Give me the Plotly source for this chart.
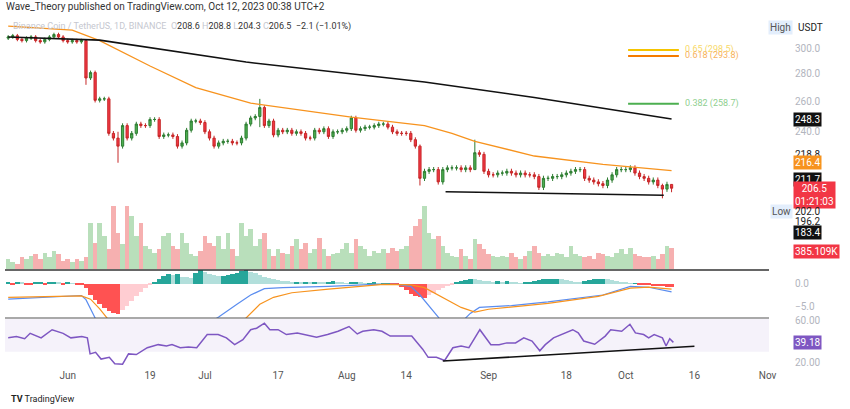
import numpy as np
import pandas as pd
import plotly.graph_objects as go

start = pd.Timestamp("2023-05-19")

closes = [
    309, 310, 307, 306, 308, 309, 306, 305, 307, 309, 311, 309, 306, 305, 306, 305, 306,
    277, 281, 261, 262, 262, 239, 236, 231, 244, 236, 239, 245, 244, 244, 248, 248, 237,
    238, 238, 237, 231, 233, 241, 247, 247, 246, 240, 236, 231, 233, 234, 234, 233, 233,
    236, 245, 249, 250, 256, 244, 247, 238, 241, 240, 241, 239, 240, 239, 236, 236, 241,
    240, 242, 237, 240, 240, 241, 242, 249, 241, 242, 243, 243, 244, 245, 245, 243, 240,
    239, 239, 239, 235, 231,
    212,
    216, 217, 217, 210, 217, 218, 218, 218, 217, 218, 217, 227, 226, 216, 214, 214, 215,
    215, 216, 215, 214, 215, 214, 214, 213, 207, 212, 212, 213, 213, 214, 215, 216, 217,
    217, 212, 211, 210, 209, 208, 211, 214, 217, 217, 217, 218, 215, 213, 212, 210, 211,
    208, 206, 208.6, 206.5,
]
first_open = 308
wick = 1.5
wick_overrides = {17: (306, 272), 24: (240, 221), 55: (262, 243), 90: (232, 208),
                  102: (235, 217), 143: (209, 201), 145: (208.8, 204.3)}

volume_k = [
    180, 120, 90, 210, 180, 240, 270, 180, 300, 210, 330, 270, 150, 180, 120, 180, 150, 210,
    840, 480, 840, 600, 360, 1140, 660, 450, 1140, 960, 600, 840, 420, 360, 300,
    360, 600, 660, 420, 360, 660, 480, 270, 240, 330, 600, 480, 420, 600, 360, 660, 360, 240,
    840, 600, 720, 420, 540, 660,
    360, 240, 360, 300, 270, 420, 540, 360, 480, 300, 360, 570, 360, 240, 270, 300, 360,
    480, 300, 540, 420, 360, 240, 330, 300, 360, 300, 390, 330, 360, 420, 600, 780, 900,
    1140, 660, 540, 600, 420, 300, 240, 210, 360, 240, 180, 540,
    450, 360, 270, 240, 210, 240, 210, 300, 210, 180, 240, 330, 420, 300,
    240, 270, 240, 300, 270, 210, 420, 270, 240, 210, 240, 180, 300, 270, 240, 210, 300, 360,
    270, 390, 270, 240, 210, 210, 240, 180, 270, 420, 385,
]

macd_hist = [
    0.2, -0.2, 0.3, 0.2, -0.2, -0.3, 0.2, 0.3, -0.2, 0.2, 0.3, 0.2, -0.2, 0.2, 0.1, -0.1, -0.3,
    -1.0, -2.5, -3.5, -4.5, -5.3, -6.0, -6.5, -6.7, -5.8, -4.8, -3.8, -2.8, -1.8, -1.0, -0.4,
    0.4, 0.9, 1.6, 2.0, 1.8, 2.0, 1.5, 1.4, 1.3, 2.3, 3.0, 2.6, 2.1, 1.8, 1.6, 1.7, 1.9, 2.0,
    2.3, 2.8, 3.1, 2.6, 2.2, 1.8, 1.5,
    1.2, 1.0, 0.8, 0.6, 0.5, 0.4, 0.4, 0.3, 0.4, 0.3, 0.4, 0.3, 0.2, 0.3, 0.5, 0.3, 0.2, 0.1,
    0.2, 0.3, 0.2, 0.1, 0.1, 0.2, 0.1, 0.1, 0.1, -0.1, -0.3,
    -0.8, -1.5, -2.2, -2.8, -3.0, -3.2, -2.6, -2.0, -1.5, -1.0, -0.6, -0.3, 0.2, 0.5, 0.8, 1.0,
    0.9, 0.7, 0.6, 0.5, 0.4, 0.5, 0.4, 0.5, 0.3, 0.2, 0.1, 0.2, 0.3, 0.5, 0.7, 0.9, 1.0, 1.1,
    1.1, 1.0, 0.8, 0.6, 0.4, 0.3, 0.5, 0.7, 0.9, 1.0, 1.1, 0.9, 0.7, 0.5, 0.3, 0.2, 0.1, 0.1,
    -0.1, -0.2, -0.4, -0.5, -0.6, -0.6, -0.7, -0.7,
]

macd_days = [0, 8, 16, 17, 18, 19, 20, 44, 46, 50, 53, 56, 60, 70, 80, 85, 88, 90, 92, 95,
             99, 101, 103, 110, 118, 125, 130, 136, 140, 145]
macd_vals = [-3.4, -3.0, -2.6, -3.5, -5.5, -7.8, -9.5, -8.5, -7.3, -4.5, -2.5, -1.1, -0.9,
             -0.6, -0.2, -0.2, -0.6, -2.5, -5.0, -8.5, -8.5, -6.5, -5.2, -4.8, -4.0, -3.2,
             -2.5, -0.6, -0.8, -1.8]
signal_days = [0, 16, 18, 20, 22, 30, 45, 50, 52, 55, 58, 62, 70, 82, 88, 91, 95, 99, 102,
               105, 118, 129, 136, 140, 145]
signal_vals = [-3.0, -2.7, -3.4, -5.5, -8.0, -11, -11, -8.5, -7.5, -4.5, -3.0, -2.0, -1.2,
               -0.2, -0.3, -0.9, -3.0, -5.2, -6.2, -5.6, -4.3, -2.8, -1.0, -0.8, -1.2]

rsi_days = [0, 1.8, 3.6, 4.8, 7.2, 9.6, 12, 13.7, 16.1, 17.3, 17.9, 19.1, 20.3, 22.1, 23.3,
            25, 26.3, 28, 30.4, 32.8, 34.6, 35.8, 37.6, 39.4, 41.2, 43.5, 45.9, 47.7, 49.5,
            51.3, 53, 54.3, 56, 57.2, 59, 60.8, 63.2, 65, 67.4, 69.8, 72.1, 74.5, 76.3, 77.5,
            79.9, 81.7, 83.5, 85.8, 88.2, 90.6, 91.8, 93.6, 95.4, 97.2, 99, 100.7, 103.1,
            105.5, 107.3, 109, 110.9, 112.7, 114.5, 116.2, 117.4, 119.2, 121, 123.4, 124.6,
            125.8, 128.2, 130.5, 131.7, 134.1, 135.9, 137.1, 138.9, 140, 141.2, 143, 143.8,
            144.6, 145.4]
rsi_vals = [43.6, 45, 42.8, 48, 43.6, 51.5, 48, 43.6, 45, 43.6, 28, 29.5, 23, 24.7, 18.4, 18,
            28, 27.4, 34, 37, 35.7, 37, 34, 34.6, 34, 46.8, 46.8, 43.6, 37, 41.8, 51.5, 53,
            57.8, 51.5, 51.5, 46.8, 48.4, 46.8, 44.3, 46.8, 50, 54.6, 47.4, 50, 51.5, 50, 45.3,
            45.3, 45.3, 32.6, 24.7, 24.7, 21.6, 34, 35.7, 34, 51.5, 37, 37, 38.7, 38.7, 43.6,
            40.5, 31, 37, 43.6, 46.8, 51.5, 48.4, 40.5, 37.4, 45.3, 51.5, 50, 56.8, 48.4, 46.8,
            43.6, 46.8, 43.6, 35.7, 42.8, 39.18]

ema50_days = [0, 14, 20, 31, 41, 53, 75, 91, 97, 102, 115, 130, 145]
ema50_vals = [318, 314.6, 306, 286, 270, 259, 249.5, 244, 239, 234, 225, 220, 216.4]
ema200_days = [0, 20, 52, 91, 115, 145]
ema200_vals = [309, 306.4, 289, 274, 263, 248.3]

fib_levels = [(0.65, 298.5, "#f5c400"), (0.618, 293.8, "#f57c00"), (0.382, 258.7, "#4caf50")]
fib_label_colors = ["#f8d96a", "#f7b25c", "#8fcf8f"]

tick_dates = ["2023-06-01", "2023-06-19", "2023-07-01", "2023-07-17", "2023-08-01",
              "2023-08-14", "2023-09-01", "2023-09-18", "2023-10-01", "2023-10-16", "2023-11-01"]
tick_text = ["Jun", "19", "Jul", "17", "Aug", "14", "Sep", "18", "Oct", "16", "Nov"]


def day(d):
    return start + pd.to_timedelta(d, unit="D")


n = len(closes)
dates = day(np.arange(n))
opens = [first_open] + closes[:-1]
highs, lows = [], []
for i in range(n):
    if i in wick_overrides:
        h, l = wick_overrides[i]
    else:
        h, l = max(opens[i], closes[i]) + wick, min(opens[i], closes[i]) - wick
    highs.append(h)
    lows.append(l)

vol_colors = ["#b9dfbb" if c >= o else "#f6b0b0" for o, c in zip(opens, closes)]
hist_colors = []
for i, v in enumerate(macd_hist):
    prev = macd_hist[i - 1] if i else v
    if v >= 0:
        hist_colors.append("#26a69a" if v >= prev else "#b2dfdb")
    else:
        hist_colors.append("#ff5252" if v <= prev else "#ffcdd2")

fig = go.Figure()

fig.add_trace(go.Bar(x=dates, y=volume_k[:n], marker=dict(color=vol_colors, line_width=0),
                     xaxis="x", yaxis="y4", showlegend=False))
fig.add_trace(go.Candlestick(
    x=dates, open=opens, high=highs, low=lows, close=closes, xaxis="x", yaxis="y",
    increasing=dict(line=dict(color="#2e7d32", width=1), fillcolor="#4caf50"),
    decreasing=dict(line=dict(color="#c62828", width=1), fillcolor="#f23645"),
    whiskerwidth=0, showlegend=False,
))
fig.add_trace(go.Scatter(x=day(ema50_days), y=ema50_vals, mode="lines", line=dict(color="#f7931e", width=1.3),
                         xaxis="x", yaxis="y", showlegend=False))
fig.add_trace(go.Scatter(x=day(ema200_days), y=ema200_vals, mode="lines", line=dict(color="#111111", width=1.6),
                         xaxis="x", yaxis="y", showlegend=False))
# support line under the lows
fig.add_trace(go.Scatter(x=day([95.6, 143.3]), y=[204.6, 202.7], mode="lines", line=dict(color="#111", width=1.5),
                         xaxis="x", yaxis="y", showlegend=False))
for lvl, price, col in fib_levels:
    fig.add_trace(go.Scatter(x=day([135.5, 146.6]), y=[price, price], mode="lines", line=dict(color=col, width=2),
                             xaxis="x", yaxis="y", showlegend=False))

# MACD
fig.add_trace(go.Bar(x=dates, y=macd_hist, marker=dict(color=hist_colors, line_width=0),
                     xaxis="x2", yaxis="y2", showlegend=False))
fig.add_trace(go.Scatter(x=day(macd_days), y=macd_vals, mode="lines", line=dict(color="#5b8def", width=1.2),
                         xaxis="x2", yaxis="y2", showlegend=False))
fig.add_trace(go.Scatter(x=day(signal_days), y=signal_vals, mode="lines", line=dict(color="#f7931e", width=1.2),
                         xaxis="x2", yaxis="y2", showlegend=False))

# RSI
fig.add_trace(go.Scatter(x=day(rsi_days), y=rsi_vals, mode="lines", line=dict(color="#7e57c2", width=1.5),
                         xaxis="x3", yaxis="y3", showlegend=False))
fig.add_trace(go.Scatter(x=day([95, 150]), y=[21, 35.5], mode="lines", line=dict(color="#111", width=1.5),
                         xaxis="x3", yaxis="y3", showlegend=False))

xrange = [day(-0.7), day(166.3)]
price_lo, price_hi = 166.5, 319
axis_common = dict(showgrid=False, zeroline=False, showline=False)

shapes = [
    dict(type="rect", xref="x3", yref="y3", x0=xrange[0], x1=xrange[1], y0=30, y1=70,
         fillcolor="rgba(126,87,194,0.08)", line_width=0, layer="below"),
    dict(type="line", xref="paper", yref="paper", x0=0, x1=1, y0=0.2857, y1=0.2857, line=dict(color="#333", width=1.5)),
    dict(type="line", xref="paper", yref="paper", x0=0, x1=1, y0=0.1458, y1=0.1458, line=dict(color="#555", width=1.2)),
    dict(type="circle", xref="x", yref="y", xsizemode="pixel", ysizemode="pixel",
         xanchor=day(21.9), yanchor=np.log10(306.5), x0=-12, x1=12, y0=-12, y1=12,
         line=dict(color="#333", width=1)),
]
for val, col, dash, w in [(211.7, "#111", "solid", 1.5), (183.4, "#111", "solid", 1.8),
                          (317, "#aaa", "dot", 1), (206.5, "#f28b8b", "dot", 1), (202.0, "#aaa", "dot", 1)]:
    shapes.append(dict(type="line", xref="paper", yref="y", x0=0, x1=1, y0=np.log10(val), y1=np.log10(val),
                       line=dict(color=col, width=w, dash=dash)))

annotations = []


def right_label(text, yref, y, color="#b2b5be", bg=None, xshift=24, font_color=None):
    annotations.append(dict(
        text=text, xref="paper", x=1, xanchor="left", xshift=xshift, yref=yref, y=y,
        showarrow=False, font=dict(size=10, color=font_color or color, family="Roboto"),
        bgcolor=bg, borderpad=1,
    ))


for v in [300.0, 280.0, 260.0, 240.0]:
    right_label(f"{v:.1f}", "y", np.log10(v))
right_label("218.8", "y", np.log10(226.2), font_color="#222")
right_label("248.3", "y", np.log10(248.3), bg="#111", font_color="white")
right_label("216.4", "y", np.log10(221.1), bg="#f7931e", font_color="white")
right_label("211.7", "y", np.log10(211.1), bg="#111", font_color="white")
right_label("206.5<br>01:21:03", "y", np.log10(202.6), bg="#f23645", font_color="white")
right_label("202.0", "y", np.log10(194.2), font_color="#222")
right_label("Low", "y", np.log10(194.2), bg="#e3eefc", font_color="#555", xshift=1)
right_label("196.2", "y", np.log10(188.9), font_color="#222")
right_label("183.4", "y", np.log10(183.4), bg="#111", font_color="white")
right_label("385.109K", "y", np.log10(174.6), bg="#f23645", font_color="white")
right_label("High", "y", np.log10(317), bg="#e3eefc", font_color="#555", xshift=-1)
right_label("USDT", "y", np.log10(317), font_color="#222", bg="white", xshift=27)
right_label("0.0", "y2", 0)
right_label("−5.0", "y2", -5)
right_label("60.00", "y3", 60)
right_label("20.00", "y3", 20)
right_label("39.18", "y3", 39.18, bg="#7e57c2", font_color="white")

for (lvl, price, col), lcol in zip(fib_levels, fib_label_colors):
    annotations.append(dict(text=f"{lvl} ({price})", x=day(147.6), y=np.log10(price), xref="x", yref="y",
                            xanchor="left", showarrow=False, font=dict(size=9, color=lcol, family="Roboto")))

annotations += [
    dict(text="Wave_Theory published on TradingView.com, Oct 12, 2023 00:38 UTC+2", xref="paper", yref="paper",
         x=0, y=1, yshift=11, xanchor="left", yanchor="bottom", showarrow=False, xshift=-1,
         font=dict(size=10, color="#333", family="Roboto")),
    dict(text="<span style='color:#c5c7cf'>Binance Coin / TetherUS, 1D, BINANCE  O</span>208.6 "
              "<span style='color:#c5c7cf'>H</span>208.8 <span style='color:#c5c7cf'>L</span>204.3 "
              "<span style='color:#c5c7cf'>C</span>206.5  −2.1 (−1.01%)",
         xref="paper", yref="paper", x=0, y=1, yshift=6, xshift=6, xanchor="left", yanchor="top", showarrow=False,
         font=dict(size=9, color="#333", family="Roboto")),
    dict(text="<b>TV</b> TradingView", xref="paper", yref="paper", x=0, y=0, yshift=-38, xshift=4,
         xanchor="left", yanchor="bottom", showarrow=False, font=dict(size=9, color="#222", family="Roboto")),
]

fig.update_layout(
    width=850, height=409,
    margin=dict(l=5, r=81, t=25, b=41),
    paper_bgcolor="white", plot_bgcolor="white",
    bargap=0, showlegend=False,
    xaxis=dict(domain=[0, 1], anchor="y", range=xrange, showticklabels=False,
               rangeslider=dict(visible=False), **axis_common),
    xaxis2=dict(domain=[0, 1], anchor="y2", matches="x", showticklabels=False, **axis_common),
    xaxis3=dict(domain=[0, 1], anchor="y3", matches="x", tickvals=tick_dates, ticktext=tick_text,
                tickfont=dict(size=10, color="#555", family="Roboto"), ticks="", **axis_common),
    yaxis=dict(domain=[0.2886, 1], type="log", range=[np.log10(price_lo), np.log10(price_hi)],
               showticklabels=False, **axis_common),
    yaxis4=dict(overlaying="y", range=[0, 4433], showticklabels=False, **axis_common),
    yaxis2=dict(domain=[0.1458, 0.2857], range=[-7.5, 2.95], showticklabels=False, **axis_common),
    yaxis3=dict(domain=[0, 0.1428], range=[14.3, 61.9], showticklabels=False, **axis_common),
    shapes=shapes,
    annotations=annotations,
)

fig.write_html("out.html", config={"displayModeBar": False},
               post_script="document.body.style.margin='0';")
